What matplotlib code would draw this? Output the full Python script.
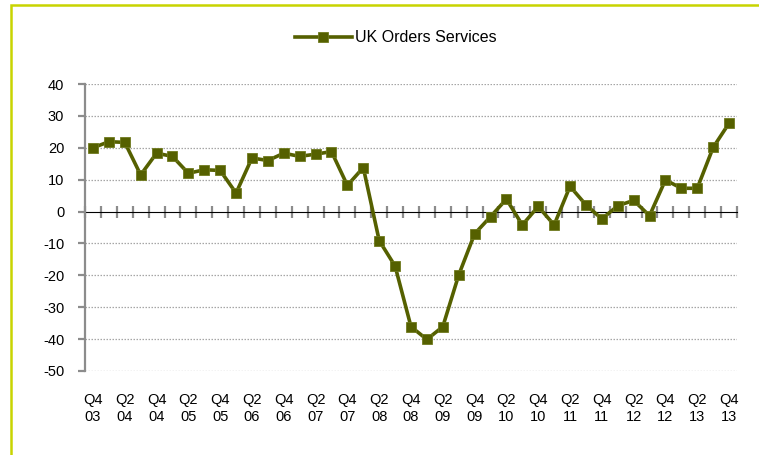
import matplotlib
matplotlib.use('Agg')
import matplotlib.pyplot as plt
import matplotlib.patches as patches
import numpy as np

plt.rcParams['font.family'] = ['Liberation Sans', 'DejaVu Sans']
plt.rcParams['axes.unicode_minus'] = False

# quarterly survey balance, Q4 2003 .. Q4 2013
quarters = ['Q4\n03', 'Q1\n04', 'Q2\n04', 'Q3\n04', 'Q4\n04', 'Q1\n05', 'Q2\n05', 'Q3\n05',
            'Q4\n05', 'Q1\n06', 'Q2\n06', 'Q3\n06', 'Q4\n06', 'Q1\n07', 'Q2\n07', 'Q3\n07',
            'Q4\n07', 'Q1\n08', 'Q2\n08', 'Q3\n08', 'Q4\n08', 'Q1\n09', 'Q2\n09', 'Q3\n09',
            'Q4\n09', 'Q1\n10', 'Q2\n10', 'Q3\n10', 'Q4\n10', 'Q1\n11', 'Q2\n11', 'Q3\n11',
            'Q4\n11', 'Q1\n12', 'Q2\n12', 'Q3\n12', 'Q4\n12', 'Q1\n13', 'Q2\n13', 'Q3\n13',
            'Q4\n13']
services = [20, 21.9, 21.7, 11.5, 18.3, 17.3, 12, 13.1, 12.9, 5.8,
            16.8, 16.0, 18.3, 17.3, 18.0, 18.8, 8.2, 13.8, -9.1, -17.1,
            -36.1, -40.1, -36.1, -19.9, -7.0, -1.6, 3.9, -4.2, 1.6, -4.2,
            7.9, 2.1, -2.3, 1.8, 3.5, -1.3, 9.9, 7.3, 7.3, 20.1, 27.7]
yticks = [40, 30, 20, 10, 0, -10, -20, -30, -40, -50]

olive = '#556000'
axis_grey = '#8c8c8c'

fig = plt.figure(figsize=(7.59, 4.55), dpi=100)
ax = fig.add_axes([85 / 759, 1 - 371 / 455, (737 - 85) / 759, (371 - 84) / 455])

x = np.arange(len(services))
ax.plot(x, services, color=olive, lw=2.6, marker='s', ms=6.5,
        mec='#6f7a1e', mew=0.6, label='UK Orders Services', zorder=3)

ax.set_xlim(-0.5, len(services) - 0.5)
ax.set_ylim(-50, 40)

# dotted grid
ax.set_yticks(yticks)
for v in yticks:
    if v != 0:
        ax.axhline(v, color='#a6a6a6', lw=0.9, ls=(0, (1.2, 1.2)), zorder=1)

for s in ['top', 'right', 'bottom']:
    ax.spines[s].set_visible(False)
ax.spines['left'].set_color(axis_grey)
ax.spines['left'].set_linewidth(1.6)
ax.tick_params(axis='y', colors=axis_grey, width=1.6, length=5, labelsize=10.5,
               labelcolor='black', pad=10)

# category labels every second quarter, at the bottom
ax.set_xticks(x[::2])
ax.set_xticklabels(quarters[::2], fontsize=10.5, linespacing=1.22)
ax.tick_params(axis='x', length=0, pad=16)

# zero axis with tick marks between categories
zero_axis = ax.secondary_xaxis(50 / 90)
zero_axis.spines['bottom'].set_color(axis_grey)
zero_axis.spines['bottom'].set_linewidth(1.6)
zero_axis.set_xticks(np.arange(-0.5, len(services), 1))
zero_axis.set_xticklabels([])
zero_axis.tick_params(axis='x', direction='inout', length=8, width=1.6, colors=axis_grey)

fig.legend(loc='center', bbox_to_anchor=(0.521, 0.917), frameon=False, fontsize=11.5,
           handlelength=3.6, handletextpad=0.15)

# chart frame (only left and top edges visible)
frame = patches.Rectangle((11 / 759, -0.1), 1.2, 1 - 5 / 455 + 0.1, transform=fig.transFigure,
                          fill=False, edgecolor='#c8d400', lw=1.8)
fig.add_artist(frame)

fig.savefig('out.png', dpi=100)
